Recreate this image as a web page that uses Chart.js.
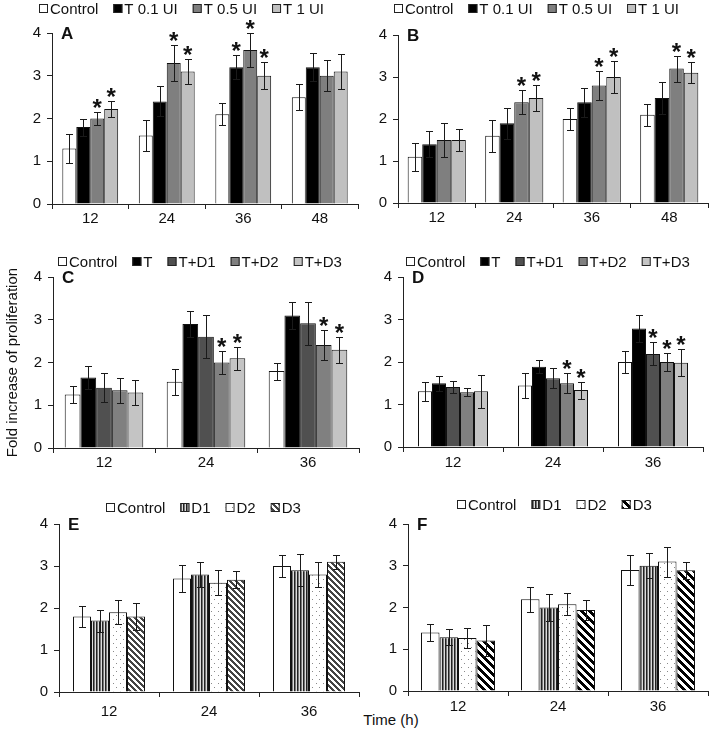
<!DOCTYPE html>
<html>
<head>
<meta charset="utf-8">
<script src="https://cdn.jsdelivr.net/npm/chart.js@4.4.1/dist/chart.umd.min.js"></script>
<style>
  html, body { margin: 0; padding: 0; background: #fff; }
  #figure { position: relative; width: 709px; height: 742px; overflow: hidden; font-family: "Liberation Sans", Arial, sans-serif; }
  #figure canvas { position: absolute; }
  #time-label { position: absolute; left: 341px; top: 711px; width: 100px; text-align: center; font-size: 15px; color: #111; }
</style>
</head>
<body>
<div id="figure">
  <div id="time-label">Time (h)</div>
</div>
<script>
// time points (h)
const hoursAB = ["12", "24", "36", "48"];
const hoursCF = ["12", "24", "36"];

// group names
const groupsAB = ["Control", "T 0.1 UI", "T 0.5 UI", "T 1 UI"];
const groupsCD = ["Control", "T", "T+D1", "T+D2", "T+D3"];
const groupsEF = ["Control", "D1", "D2", "D3"];

// panel A
const meanA = [[1.3, 1.6, 2.1, 2.5], [1.8, 2.4, 3.2, 3.2], [2.0, 3.3, 3.6, 3.0], [2.22, 3.1, 3.0, 3.1]];
const errA = [[0.34, 0.36, 0.26, 0.31], [0.2, 0.35, 0.28, 0.33], [0.16, 0.43, 0.39, 0.36], [0.18, 0.3, 0.32, 0.4]];
const starsA = [[0, 0, 0, 0], [0, 0, 1, 0], [1, 1, 1, 0], [1, 1, 1, 0]];

// panel B
const meanB = [[1.1, 1.6, 2.0, 2.1], [1.4, 1.9, 2.4, 2.5], [1.5, 2.4, 2.8, 3.2], [1.5, 2.5, 3.0, 3.1]];
const errB = [[0.33, 0.38, 0.26, 0.26], [0.31, 0.37, 0.35, 0.38], [0.4, 0.29, 0.35, 0.31], [0.26, 0.3, 0.39, 0.25]];
const starsB = [[0, 0, 0, 0], [0, 0, 0, 0], [0, 1, 1, 1], [0, 1, 1, 1]];

// panel C
const meanC = [[1.25, 1.55, 1.8], [1.65, 2.9, 3.1], [1.41, 2.6, 2.92], [1.35, 2.0, 2.41], [1.3, 2.1, 2.3]];
const errC = [[0.19, 0.3, 0.2], [0.27, 0.31, 0.32], [0.34, 0.5, 0.5], [0.29, 0.26, 0.35], [0.3, 0.27, 0.3]];
const starsC = [[0, 0, 0], [0, 0, 0], [0, 0, 0], [0, 1, 1], [0, 1, 1]];

// panel D
const meanD = [[1.31, 1.45, 2.0], [1.5, 1.89, 2.79], [1.41, 1.62, 2.19], [1.29, 1.5, 2.0], [1.31, 1.34, 1.98]];
const errD = [[0.22, 0.3, 0.25], [0.18, 0.16, 0.32], [0.14, 0.23, 0.27], [0.1, 0.23, 0.2], [0.39, 0.2, 0.32]];
const starsD = [[0, 0, 0], [0, 0, 0], [0, 0, 1], [0, 1, 1], [0, 1, 1]];

// panel E
const meanE = [[1.8, 2.7, 3.0], [1.7, 2.8, 2.9], [1.9, 2.6, 2.8], [1.8, 2.67, 3.1]];
const errE = [[0.25, 0.32, 0.26], [0.26, 0.3, 0.38], [0.28, 0.3, 0.3], [0.33, 0.2, 0.17]];

// panel F
const meanF = [[1.4, 2.2, 2.9], [1.29, 2.0, 3.0], [1.27, 2.08, 3.1], [1.21, 1.94, 2.89]];
const errF = [[0.2, 0.3, 0.36], [0.2, 0.32, 0.3], [0.23, 0.26, 0.36], [0.36, 0.23, 0.21]];

const FONT = "'Liberation Sans', Arial, sans-serif";
Chart.defaults.font.family = FONT;
Chart.defaults.font.size = 15;
Chart.defaults.color = "#111";

function makePattern(w, h, paint) {
  const c = document.createElement("canvas");
  c.width = w;
  c.height = h;
  const g = c.getContext("2d");
  paint(g, w, h);
  return g.createPattern(c, "repeat");
}

const vStripes = makePattern(3, 1, (g) => {
  ["#222", "#777", "#ddd"].forEach((col, i) => { g.fillStyle = col; g.fillRect(i, 0, 1, 1); });
});

const dots = makePattern(7, 8, (g, w, h) => {
  g.fillStyle = "#fff";
  g.fillRect(0, 0, w, h);
  g.fillStyle = "#8a8a8a";
  g.fillRect(1, 1, 1, 1);
  g.fillRect(4, 5, 1, 1);
});

function hatch(n, thick, color) {
  return makePattern(n, n, (g) => {
    g.fillStyle = "#fff";
    g.fillRect(0, 0, n, n);
    g.fillStyle = color;
    for (let y = 0; y < n; y++) {
      for (let x = 0; x < n; x++) {
        if ((((x - y) % n) + n) % n < thick) g.fillRect(x, y, 1, 1);
      }
    }
  });
}

const fillsAB = ["#ffffff", "#000000", "#7f7f7f", "#c0c0c0"];
const fillsCD = ["#ffffff", "#000000", "#505050", "#808080", "#c4c4c4"];
const fillsE = ["#ffffff", vStripes, dots, hatch(6, 3, "#444")];
const fillsF = ["#ffffff", vStripes, dots, hatch(8, 4, "#000")];

const errorBars = {
  id: "errorBars",
  afterDatasetsDraw(chart) {
    const { ctx } = chart;
    const y = chart.scales.y;
    ctx.save();
    ctx.lineWidth = 1;
    ctx.strokeStyle = "#1a1a1a";
    ctx.fillStyle = "#111";
    ctx.font = `bold 24px ${FONT}`;
    ctx.textAlign = "center";
    ctx.textBaseline = "alphabetic";
    chart.data.datasets.forEach((ds, i) => {
      chart.getDatasetMeta(i).data.forEach((bar, j) => {
        const v = ds.data[j];
        const e = ds.errors[j];
        const top = Math.round(y.getPixelForValue(v + e)) + 0.5;
        const bot = Math.round(y.getPixelForValue(v - e)) + 0.5;
        const x = Math.round(bar.x) + 0.5;
        ctx.beginPath();
        ctx.moveTo(x, top);
        ctx.lineTo(x, bot);
        ctx.moveTo(x - 3.5, top);
        ctx.lineTo(x + 3.5, top);
        ctx.moveTo(x - 3.5, bot);
        ctx.lineTo(x + 3.5, bot);
        ctx.stroke();
        if (ds.stars && ds.stars[j]) ctx.fillText("*", bar.x, top + 3);
      });
    });
    ctx.restore();
  },
};

const boxLegend = {
  id: "boxLegend",
  afterDraw(chart, args, opts) {
    const { ctx } = chart;
    ctx.save();
    ctx.font = `15px ${FONT}`;
    const box = 9, gap = 2, spacing = 15;
    const items = chart.data.datasets.map((ds) => ({ label: ds.label, fill: ds.backgroundColor, w: ctx.measureText(ds.label).width }));
    const total = items.reduce((s, it) => s + box + gap + it.w, 0) + spacing * (items.length - 1);
    let x = Math.round(opts.cx - total / 2);
    const top = Math.round(opts.cy - box / 2);
    items.forEach((it) => {
      ctx.fillStyle = it.fill;
      ctx.fillRect(x, top, box, box);
      ctx.strokeStyle = "#222";
      ctx.lineWidth = 1;
      ctx.strokeRect(x + 0.5, top + 0.5, box - 1, box - 1);
      ctx.fillStyle = "#111";
      ctx.textBaseline = "alphabetic";
      ctx.fillText(it.label, x + box + gap, opts.cy + 5.5);
      x += box + gap + it.w + spacing;
    });
    ctx.restore();
  },
};

const panelLetter = {
  id: "panelLetter",
  afterDraw(chart, args, opts) {
    const { ctx, chartArea } = chart;
    ctx.save();
    ctx.font = `bold 17px ${FONT}`;
    ctx.fillStyle = "#111";
    ctx.textBaseline = "top";
    ctx.fillText(opts.text, chartArea.left + 9, chartArea.top - 7);
    ctx.restore();
  },
};

const panels = [
  { id: "A", left: 0, top: 0, width: 362, height: 232, area: [52, 33, 358, 204], legend: [181, 8], cat: 0.73, xPad: 1,
    hours: hoursAB, groups: groupsAB, fills: fillsAB, means: meanA, errs: errA, stars: starsA },
  { id: "B", left: 355, top: 0, width: 354, height: 232, area: [398, 35, 708, 203], legend: [536, 8], cat: 0.75, xPad: 1,
    hours: hoursAB, groups: groupsAB, fills: fillsAB, means: meanB, errs: errB, stars: starsB },
  { id: "C", left: 0, top: 240, width: 362, height: 235, area: [53, 277, 359, 448], legend: [200, 261], cat: 0.77, xPad: 1,
    hours: hoursCF, groups: groupsCD, fills: fillsCD, means: meanC, errs: errC, stars: starsC, yTitle: "Fold increase of proliferation" },
  { id: "D", left: 355, top: 240, width: 354, height: 235, area: [403, 277, 703, 447], legend: [548, 261], cat: 0.70, xPad: 2,
    hours: hoursCF, groups: groupsCD, fills: fillsCD, means: meanD, errs: errD, stars: starsD },
  { id: "E", left: 0, top: 490, width: 362, height: 240, area: [59, 524, 359, 692], legend: [203, 507], cat: 0.72, xPad: 6,
    hours: hoursCF, groups: groupsEF, fills: fillsE, means: meanE, errs: errE },
  { id: "F", left: 355, top: 490, width: 354, height: 240, area: [408, 524, 708, 691], legend: [554, 504], cat: 0.74, xPad: 2,
    hours: hoursCF, groups: groupsEF, fills: fillsF, means: meanF, errs: errF },
];

function buildPanel(p) {
  const canvas = document.createElement("canvas");
  canvas.width = p.width;
  canvas.height = p.height;
  canvas.style.left = p.left + "px";
  canvas.style.top = p.top + "px";
  canvas.style.width = p.width + "px";
  canvas.style.height = p.height + "px";
  document.getElementById("figure").appendChild(canvas);
  const [aL, aT, aR, aB] = p.area;

  return new Chart(canvas, {
    type: "bar",
    data: {
      labels: p.hours,
      datasets: p.groups.map((name, i) => ({
        label: name,
        data: p.means[i],
        errors: p.errs[i],
        stars: p.stars ? p.stars[i] : null,
        backgroundColor: p.fills[i],
        borderColor: "#111",
        borderWidth: 1,
        barPercentage: 1,
        categoryPercentage: p.cat,
      })),
    },
    options: {
      responsive: false,
      animation: false,
      devicePixelRatio: 1,
      layout: { padding: { left: 0, top: aT - p.top, right: p.left + p.width - aR, bottom: 0 } },
      plugins: {
        legend: { display: false },
        tooltip: { enabled: false },
        boxLegend: { cx: p.legend[0] - p.left, cy: p.legend[1] - p.top },
        panelLetter: { text: p.id },
      },
      scales: {
        x: {
          offset: true,
          grid: { offset: true, drawOnChartArea: false, drawTicks: true, tickLength: 5, color: "#222" },
          border: { color: "#222" },
          ticks: { padding: p.xPad, maxRotation: 0 },
          afterFit: (s) => { s.height = p.top + p.height - aB; },
        },
        y: {
          min: 0,
          max: 4,
          ticks: { stepSize: 1, padding: 6 },
          grid: { drawOnChartArea: false, tickLength: 5, color: "#222" },
          border: { color: "#222" },
          title: { display: !!p.yTitle, text: p.yTitle || "", font: { size: 15 }, padding: { top: 4, bottom: 0 } },
          afterFit: (s) => { s.width = aL - p.left; },
        },
      },
    },
    plugins: [errorBars, boxLegend, panelLetter],
  });
}

panels.forEach(buildPanel);
</script>
</body>
</html>
